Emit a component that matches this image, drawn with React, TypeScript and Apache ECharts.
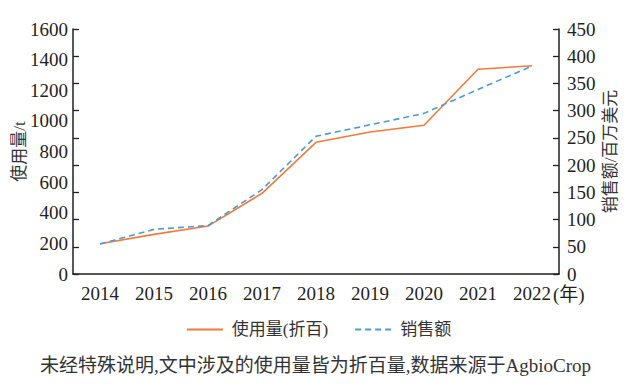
import React, { useEffect, useRef } from "react";
import * as echarts from "echarts";

const years = ["2014", "2015", "2016", "2017", "2018", "2019", "2020", "2021", "2022"];
const usage = [198, 259, 313, 527, 860, 927, 971, 1337, 1360];
const sales = [55, 82, 89, 155, 253, 274, 295, 339, 382];
const usageName = "使用量(折百)";
const salesName = "销售额";
const leftAxisName = "使用量/t";
const rightAxisName = "销售额/百万美元";
const xUnit = "(年)";
const caption = "未经特殊说明,文中涉及的使用量皆为折百量,数据来源于AgbioCrop";

const FONT = "'Liberation Serif', 'Noto Sans CJK SC', serif";
const TXT = "#231f20";

export default function App() {
  const ref = useRef<HTMLDivElement>(null);
  useEffect(() => {
    const chart = echarts.init(ref.current!, null, { renderer: "svg" });
    chart.setOption({
      animation: false,
      backgroundColor: "#fff",
      grid: { left: 73, right: 78, top: 29, bottom: 111 },
      legend: {
        top: 316,
        left: "center",
        itemWidth: 36,
        itemHeight: 14,
        itemGap: 26,
        itemStyle: { opacity: 0 },
        textStyle: { fontFamily: FONT, fontSize: 17, color: "#333", padding: [0, 0, 0, 4] },
        data: [usageName, salesName],
      },
      xAxis: {
        type: "category",
        data: years,
        boundaryGap: true,
        axisLine: { lineStyle: { color: "#231f20", width: 1.5 } },
        axisTick: { inside: true, alignWithLabel: true, length: 6, lineStyle: { color: "#231f20", width: 1.3 } },
        axisLabel: { fontFamily: FONT, fontSize: 19, color: TXT, margin: 10 },
      },
      yAxis: [
        {
          type: "value",
          min: 0,
          max: 1600,
          interval: 200,
          position: "left",
          name: leftAxisName,
          nameLocation: "middle",
          nameGap: 45,
          nameRotate: 90,
          nameMoveOverlap: false,
          nameTextStyle: { fontFamily: FONT, fontSize: 17, color: "#333" },
          axisLine: { show: true, lineStyle: { color: "#231f20", width: 1.5 } },
          axisTick: { show: false },
          splitLine: { show: false },
          axisLabel: {
            fontFamily: FONT,
            fontSize: 19,
            color: TXT,
            margin: 5,
            formatter: (v: number) => String(v),
          },
        },
        {
          type: "value",
          min: 0,
          max: 450,
          interval: 50,
          position: "right",
          name: rightAxisName,
          nameLocation: "middle",
          nameGap: 43,
          nameRotate: 90,
          nameMoveOverlap: false,
          nameTextStyle: { fontFamily: FONT, fontSize: 17, color: "#333" },
          axisLine: { show: true, lineStyle: { color: "#231f20", width: 1.5 } },
          axisTick: { show: true, inside: true, length: 6, lineStyle: { color: "#231f20", width: 1.3 } },
          splitLine: { show: false },
          axisLabel: { fontFamily: FONT, fontSize: 19, color: TXT, margin: 8 },
        },
        {
          type: "value",
          min: 0,
          max: 450,
          interval: 50,
          position: "left",
          axisLine: { show: false },
          axisTick: { show: true, inside: true, length: 6, lineStyle: { color: "#231f20", width: 1.3 } },
          axisLabel: { show: false },
          splitLine: { show: false },
        },
      ],
      series: [
        {
          name: usageName,
          type: "line",
          yAxisIndex: 0,
          data: usage,
          symbol: "none",
          lineStyle: { color: "#f47a38", width: 1.6 },
          itemStyle: { color: "#f47a38" },
        },
        {
          name: salesName,
          type: "line",
          yAxisIndex: 1,
          data: sales,
          symbol: "none",
          lineStyle: { color: "#4a9ad8", width: 1.6, type: [6, 4] },
          itemStyle: { color: "#4a9ad8" },
        },
      ],
      graphic: [
        {
          type: "text",
          left: 553,
          top: 285,
          style: { text: xUnit, fontFamily: FONT, fontSize: 19, fill: TXT },
        },
        {
          type: "text",
          left: 40,
          top: 356,
          style: { text: caption, fontFamily: FONT, fontSize: 19, fill: "#333" },
        },
      ],
    });
    return () => chart.dispose();
  }, []);
  return (
    <div
      ref={ref}
      style={{ position: "fixed", left: 0, top: 0, width: 637, height: 385, background: "#fff" }}
    />
  );
}
